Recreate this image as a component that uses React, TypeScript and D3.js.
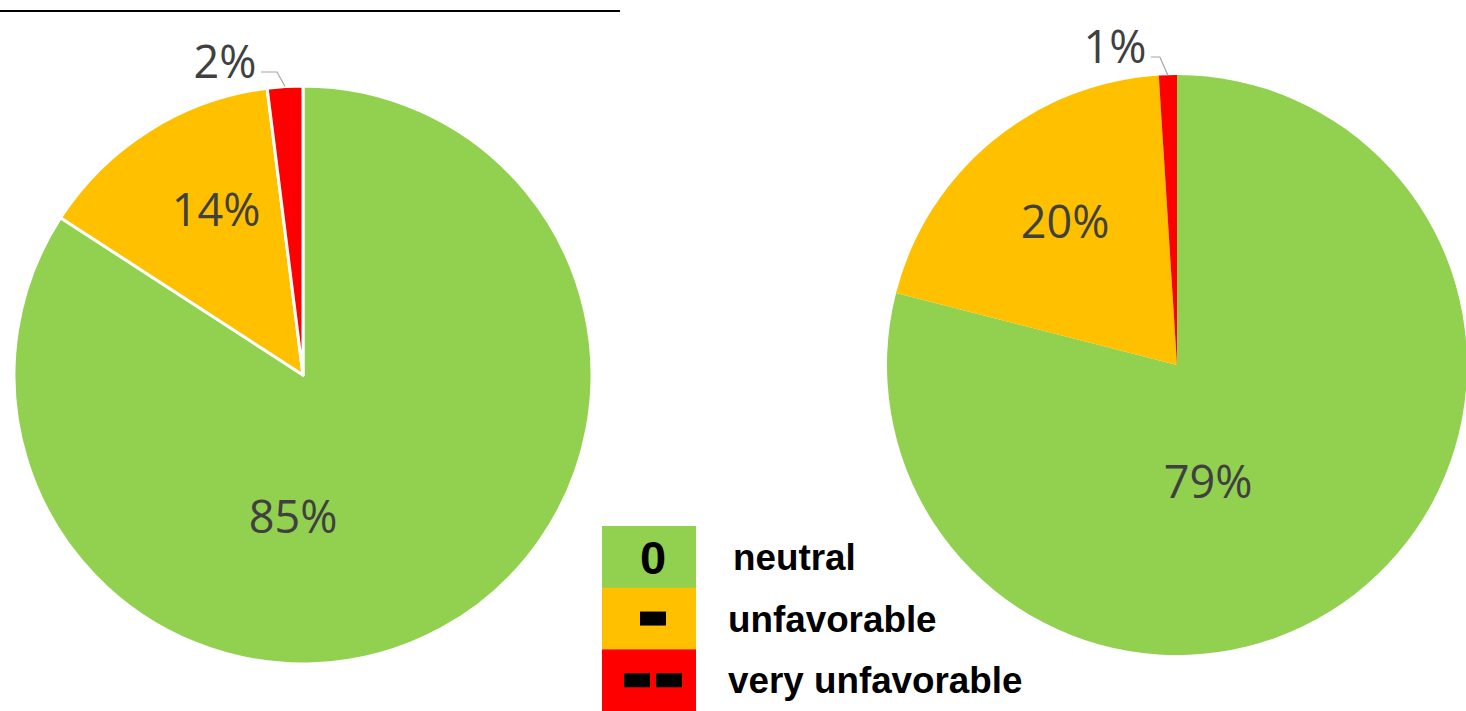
import React from "react";
import * as d3 from "d3";

// Rating categories and their colours
const categories = ["neutral", "unfavorable", "very unfavorable"];
const colors = ["#92D050", "#FFC000", "#FF0000"];

// Shares (percent) for the two pies, in category order
const leftValues = [85, 14, 2];
const rightValues = [79, 20, 1];

// Legend glyph for each category
const legendSymbols = ["0", "-", "--"];

const W = 1466;
const H = 711;

type PieSpec = {
  values: number[];
  cx: number;
  cy: number;
  r: number;
  border: number;
  // label anchor offsets relative to the pie centre, and whether the label sits outside with a leader
  labels: { dx: number; dy: number; outside?: boolean }[];
};

const pies: PieSpec[] = [
  {
    values: leftValues,
    cx: 303,
    cy: 375,
    r: 289,
    border: 3,
    labels: [
      { dx: -10, dy: 140 },
      { dx: -87, dy: -167 },
      { dx: -78, dy: -315, outside: true },
    ],
  },
  {
    values: rightValues,
    cx: 1177,
    cy: 365,
    r: 290,
    border: 0,
    labels: [
      { dx: 31, dy: 115 },
      { dx: -112, dy: -145 },
      { dx: -62, dy: -320, outside: true },
    ],
  },
];

const LABEL_FONT = "'Open Sans', 'Noto Sans', sans-serif";
const LEGEND_FONT = "'Liberation Sans', Arial, sans-serif";

function Pie({ spec }: { spec: PieSpec }) {
  const pie = d3
    .pie<number>()
    .sort(null)
    .value((d) => d)
    .startAngle(0)
    .endAngle(2 * Math.PI);
  const arcs = pie(spec.values);
  const arc = d3
    .arc<d3.PieArcDatum<number>>()
    .innerRadius(0)
    .outerRadius(spec.r);

  return (
    <g transform={`translate(${spec.cx},${spec.cy})`}>
      {arcs.map((a, i) => (
        <path
          key={i}
          d={arc(a) || ""}
          fill={colors[i]}
          stroke={spec.border ? "#fff" : "none"}
          strokeWidth={spec.border}
          strokeLinejoin="round"
        />
      ))}
      {arcs.map((a, i) => {
        const lab = spec.labels[i];
        const text = `${a.data}%`;
        if (lab.outside) {
          // leader line from the label to the slice's outer edge
          const mid = (a.startAngle + a.endAngle) / 2;
          const ex = Math.sin(mid) * spec.r;
          const ey = -Math.cos(mid) * spec.r;
          const lx = lab.dx + 36;
          const ly = lab.dy + 12;
          const kx = ex - 8;
          return (
            <g key={`l${i}`}>
              <polyline
                points={`${lx},${ly} ${kx},${ly} ${ex},${ey}`}
                fill="none"
                stroke="#A6A6A6"
                strokeWidth={1.2}
              />
              <text
                x={lab.dx}
                y={lab.dy}
                textAnchor="middle"
                dominantBaseline="central"
                fontFamily={LABEL_FONT}
                fontSize={45}
                fill="#404040"
              >
                {text}
              </text>
            </g>
          );
        }
        return (
          <text
            key={`l${i}`}
            x={lab.dx}
            y={lab.dy}
            textAnchor="middle"
            dominantBaseline="central"
            fontFamily={LABEL_FONT}
            fontSize={45}
            fill="#404040"
          >
            {text}
          </text>
        );
      })}
    </g>
  );
}

function Legend() {
  const x0 = 602;
  const y0 = 526;
  const bw = 94;
  const bh = 61.7;
  const y = d3.scaleBand<number>().domain(d3.range(categories.length)).range([y0, y0 + bh * 3]).padding(0);
  return (
    <g>
      {categories.map((c, i) => {
        const top = y(i)!;
        const cxm = x0 + bw / 2 + 4;
        const cym = top + bh / 2;
        const sym = legendSymbols[i];
        let glyph: React.ReactNode = null;
        if (sym === "0") {
          glyph = (
            <text
              x={cxm}
              y={cym + 17}
              textAnchor="middle"
              fontFamily={LEGEND_FONT}
              fontWeight="bold"
              fontSize={47}
              fill="#000"
            >
              0
            </text>
          );
        } else {
          const n = sym.length;
          const dw = 26;
          const gap = 6;
          const total = n * dw + (n - 1) * gap;
          glyph = (
            <g>
              {d3.range(n).map((k) => (
                <rect
                  key={k}
                  x={cxm - total / 2 + k * (dw + gap)}
                  y={cym - 7}
                  width={dw}
                  height={14}
                  fill="#000"
                />
              ))}
            </g>
          );
        }
        return (
          <g key={c}>
            <rect x={x0} y={top} width={bw} height={bh + 0.5} fill={colors[i]} />
            {glyph}
            <text
              x={i === 0 ? 733 : 728}
              y={cym + 13}
              fontFamily={LEGEND_FONT}
              fontWeight="bold"
              fontSize={36.8}
              fill="#000"
            >
              {c}
            </text>
          </g>
        );
      })}
    </g>
  );
}

export default function App() {
  return (
    <svg
      width={W}
      height={H}
      style={{ position: "absolute", left: 0, top: 0, background: "#fff" }}
    >
      <rect width={W} height={H} fill="#fff" />
      <line x1={0} x2={620} y1={11} y2={11} stroke="#000" strokeWidth={2} />
      {pies.map((p, i) => (
        <Pie key={i} spec={p} />
      ))}
      <Legend />
    </svg>
  );
}
